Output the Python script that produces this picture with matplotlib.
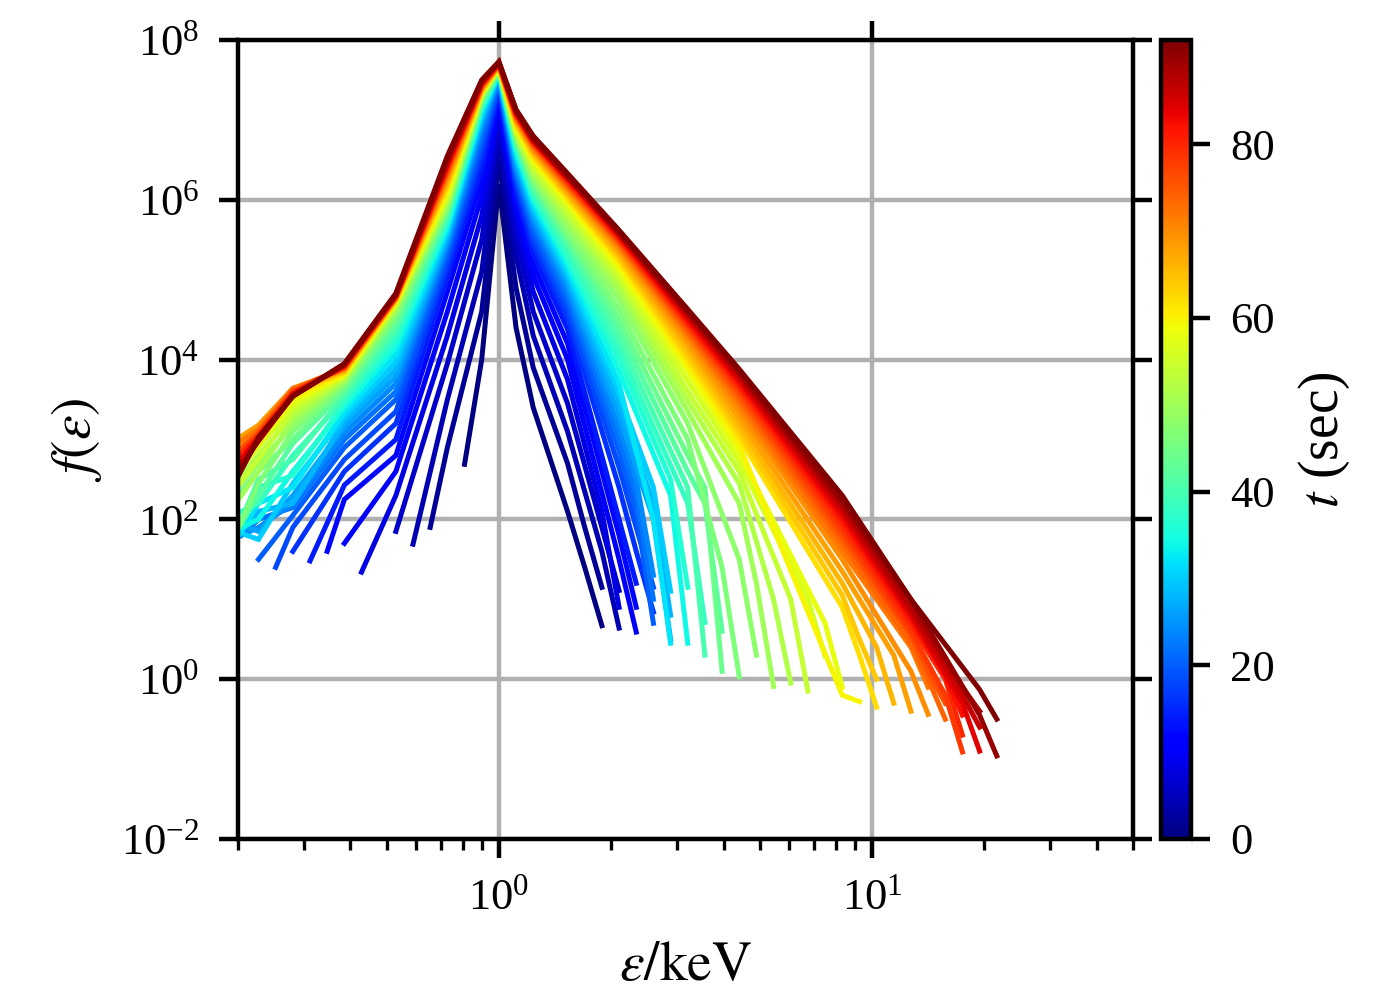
import numpy as np
import matplotlib
matplotlib.use("Agg")
import matplotlib.pyplot as plt
from matplotlib.colors import Normalize
from matplotlib.cm import ScalarMappable
from matplotlib.ticker import NullLocator

plt.rcParams['font.family'] = 'serif'
plt.rcParams['font.serif'] = ['Liberation Serif', 'DejaVu Serif']
plt.rcParams['mathtext.fontset'] = 'stix'

nan = np.nan

# energy bins (keV), bin index k = -16 ... 29  (list position = k + 16)
E_BINS = [0.1837, 0.2042, 0.2270, 0.2523, 0.2805, 0.3119, 0.3467, 0.3855,
          0.4285, 0.4764, 0.5297, 0.5888, 0.6546, 0.7278, 0.8091, 0.8995,
          1.0, 1.1117, 1.2359, 1.3740, 1.5276, 1.6982, 1.8880, 2.0989,
          2.3335, 2.5942, 2.8840, 3.2063, 3.5645, 3.9628, 4.4055, 4.8978,
          5.4450, 6.0534, 6.7298, 7.4817, 8.3176, 9.2470, 10.280, 11.429,
          12.706, 14.125, 15.704, 17.458, 19.409, 21.578]

# snapshot times (sec)
times = [0, 2, 4, 6, 8, 10, 12, 14, 16, 18, 20, 22, 24, 26, 28, 30, 32, 34, 36,
         38, 40, 42, 44, 46, 48, 50, 52, 54, 56, 58, 60, 62, 64, 66, 68, 70, 72,
         74, 76, 78, 80, 82, 84, 86, 88, 90, 92]

# lowest / highest occupied energy bin of each spectrum
k_lo = [-2, -4, -5, -6, -8, -9, -10, -11, -12, -13, -14, -15] + [-16] * 35
k_hi = [6, 6, 7, 7, 7, 8, 8, 8, 9, 9, 9, 9, 9, 10, 10, 10, 10, 11, 11, 12, 12,
        13, 13, 14, 15, 16, 17, 18, 19, 20, 21, 22, 22, 23, 24, 25, 25, 26, 26,
        27, 27, 27, 28, 28, 28, 29, 29]

# log10 f at the lowest bin
logf_lo = [2.69, 1.9, 1.69, 1.85, 1.34, 1.7, 1.6, 1.48, 1.6, 1.4, 1.5, 1.8, 1.7,
           2.0, 1.6, 1.9, 1.5, 1.8, 1.55, 2.0, 1.5, 1.6, 2.1, 1.5, 2.2, 2.0, 2.3,
           2.2, 2.4, 2.5, 2.4, 2.6, 2.7, 2.8, 2.9, 2.8, 2.85, 2.6, 2.7, 2.5, 2.6,
           2.4, 2.5, 2.3, 2.4, 2.3, 2.2]
# log10 f at E = 0.227 keV
logf_0227 = [nan] * 11 + [2.0, 1.9, 1.85, 2.1, 1.75, 2.2, 2.0, 2.4, 2.2, 2.5, 2.3,
             2.6, 2.45, 2.7, 2.6, 2.8, 2.75, 2.9, 2.95, 3.0, 3.05, 3.1, 3.15,
             3.18, 3.15, 3.12, 3.1, 3.08, 3.05, 3.05, 3.0, 3.02, 3.0, 2.98,
             3.0, 3.03]
# log10 f at E = 0.28 keV
logf_0280 = [nan] * 9 + [1.9, 2.05, 2.15, 2.2, 2.3, 2.2, 2.45, 2.4, 2.6, 2.55,
             2.8, 2.75, 2.95, 3.0, 3.1, 3.17, 3.24, 3.3, 3.36, 3.42, 3.47, 3.52,
             3.56, 3.6, 3.63, 3.64, 3.64, 3.63, 3.62, 3.6, 3.59, 3.58, 3.57,
             3.56, 3.55, 3.55, 3.54, 3.54]
# log10 f at E = 0.385 keV
logf_0385 = [nan] * 6 + [2.25, 2.43, 2.6, 2.75, 2.9, 3.0, 3.08, 3.16, 3.22,
             3.28, 3.34, 3.4, 3.45, 3.5, 3.55, 3.6, 3.64, 3.68, 3.71, 3.74,
             3.76, 3.78, 3.8, 3.81, 3.82, 3.84, 3.85, 3.86, 3.87, 3.88, 3.89,
             3.9, 3.9, 3.91, 3.92, 3.92, 3.93, 3.93, 3.94, 3.94, 3.95]
# log10 f at E = 0.53 keV
logf_0530 = [nan] * 4 + [2.3, 2.6, 2.8, 3.0, 3.2, 3.35, 3.5, 3.6, 3.7, 3.79,
             3.88, 3.97, 4.06, 4.15, 4.23, 4.3, 4.37, 4.43, 4.5, 4.55, 4.6,
             4.63, 4.66, 4.68, 4.7, 4.72, 4.73, 4.74, 4.75, 4.76, 4.76, 4.77,
             4.77, 4.78, 4.78, 4.79, 4.79, 4.8, 4.8, 4.81, 4.81, 4.82, 4.83]
# log10 f at E = 0.73 keV
logf_0727 = [nan, 2.9, 3.5, 3.95, 4.3, 4.6, 4.85, 5.05, 5.15, 5.25, 5.33, 5.4,
             5.45, 5.5, 5.55, 5.6, 5.64, 5.68, 5.72, 5.76, 5.8, 5.84, 5.87, 5.9,
             5.93, 5.96, 5.99, 6.02, 6.05, 6.1, 6.13, 6.16, 6.2, 6.23, 6.26,
             6.29, 6.32, 6.35, 6.37, 6.39, 6.41, 6.43, 6.45, 6.47, 6.49, 6.52,
             6.55]
# log10 f at E = 0.9 keV
logf_0900 = [4.0, 4.6, 5.1, 5.5, 5.8, 6.05, 6.25, 6.4, 6.55, 6.65, 6.75, 6.83,
             6.9, 6.96, 7.01, 7.05, 7.09, 7.12, 7.15, 7.18, 7.2, 7.22, 7.24,
             7.26, 7.28, 7.3, 7.31, 7.32, 7.33, 7.34, 7.35, 7.36, 7.37, 7.38,
             7.39, 7.4, 7.41, 7.42, 7.43, 7.44, 7.44, 7.45, 7.46, 7.47, 7.48,
             7.49, 7.5]
# log10 f at the peak, E = 1 keV
logf_peak = [6.2, 6.5, 6.75, 6.95, 7.1, 7.2, 7.28, 7.35, 7.4, 7.44, 7.47, 7.5,
             7.52, 7.54, 7.56, 7.57, 7.58, 7.59, 7.6, 7.6, 7.61, 7.62, 7.62,
             7.63, 7.63, 7.64, 7.64, 7.65, 7.65, 7.66, 7.66, 7.67, 7.67, 7.68,
             7.68, 7.69, 7.69, 7.7, 7.7, 7.7, 7.71, 7.71, 7.71, 7.72, 7.72,
             7.72, 7.73]
# log10 f at E = 1.11 keV
logf_111 = [4.4, 4.9, 5.3, 5.55, 5.75, 5.9, 6.0, 6.1, 6.18, 6.25, 6.3, 6.35,
            6.4, 6.45, 6.5, 6.54, 6.58, 6.62, 6.65, 6.68, 6.71, 6.74, 6.76,
            6.78, 6.8, 6.82, 6.84, 6.86, 6.88, 6.9, 6.92, 6.94, 6.96, 6.98,
            7.0, 7.02, 7.03, 7.04, 7.05, 7.06, 7.07, 7.08, 7.09, 7.1, 7.11,
            7.12, 7.13]
# log10 f at E = 1.24 keV
logf_124 = [3.4, 3.9, 4.3, 4.6, 4.85, 5.05, 5.2, 5.33, 5.44, 5.53, 5.61, 5.68,
            5.74, 5.8, 5.85, 5.9, 5.95, 6.0, 6.04, 6.08, 6.12, 6.16, 6.2, 6.24,
            6.28, 6.32, 6.36, 6.4, 6.44, 6.48, 6.51, 6.54, 6.57, 6.6, 6.62,
            6.64, 6.66, 6.68, 6.7, 6.71, 6.72, 6.73, 6.74, 6.75, 6.76, 6.78,
            6.8]
# log10 f at E = 1.53 keV
logf_153 = [2.1, 2.7, 3.1, 3.45, 3.75, 4.0, 4.2, 4.38, 4.52, 4.62, 4.72, 4.8,
            4.88, 4.95, 5.02, 5.08, 5.14, 5.2, 5.26, 5.32, 5.41, 5.47, 5.53,
            5.58, 5.65, 5.72, 5.78, 5.84, 5.9, 5.95, 5.99, 6.02, 6.05, 6.08,
            6.11, 6.14, 6.16, 6.18, 6.2, 6.22, 6.24, 6.26, 6.27, 6.28, 6.29,
            6.31, 6.33]
# log10 f at E = 2.1 keV
logf_210 = [nan] * 8 + [2.4, 2.65, 2.85, 3.0, 3.15, 3.3, 3.45, 3.58, 3.7, 3.85,
            4.0, 4.12, 4.25, 4.38, 4.5, 4.62, 4.74, 4.85, 4.94, 5.01, 5.07,
            5.13, 5.19, 5.24, 5.28, 5.32, 5.36, 5.4, 5.43, 5.46, 5.48, 5.5,
            5.52, 5.54, 5.56, 5.57, 5.58, 5.6, 5.62]
# log10 f at E = 3.2 keV
logf_321 = [nan] * 21 + [2.6, 2.8, 3.0, 3.2, 3.35, 3.48, 3.6, 3.73, 3.85, 3.92,
            3.99, 4.06, 4.13, 4.2, 4.26, 4.31, 4.35, 4.39, 4.43, 4.46, 4.49,
            4.52, 4.55, 4.58, 4.6, 4.63]
# log10 f at E = 4.4 keV
logf_441 = [nan] * 25 + [2.2, 2.45, 2.6, 2.72, 2.83, 2.93, 3.02, 3.1, 3.18,
            3.27, 3.36, 3.44, 3.5, 3.56, 3.62, 3.66, 3.7, 3.74, 3.78, 3.82,
            3.85, 3.88]
# log10 f at E = 8.3 keV
logf_832 = [nan] * 31 + [0.9, 1.05, 1.2, 1.35, 1.5, 1.6, 1.7, 1.78, 1.86, 1.94,
            2.0, 2.06, 2.12, 2.17, 2.22, 2.3]
# log10 f at E = 12.7 keV
logf_127 = [nan] * 37 + [0.45, 0.55, 0.6, 0.68, 0.75, 0.8, 0.85, 0.9, 1.0, 1.0]
# log10 f at the bin just below the highest one
logf_pre = [1.4, 1.9, 1.6, 1.9, 2.1, 1.5, 1.8, 2.0, 1.6, 1.9, 2.1, 2.3, 2.5,
            2.0, 2.2, 2.4, 2.0, 2.3, 2.5, 2.2, 2.4, 2.2, 2.4, 1.4, 1.5, 1.2,
            1.0, 1.0, 1.0, 0.7, -0.2, 0.3, 0.5, 0.4, 0.3, 0.1, 0.4, 0.0, 0.1,
            -0.2, 0.0, 0.05, -0.3, -0.2, -0.1, -0.45, -0.13]
# log10 f at the highest bin
logf_hi = [0.67, 1.15, 0.64, 1.11, 0.9, 0.59, 0.9, 1.2, 0.84, 1.15, 0.7, 1.0,
           1.3, 0.5, 0.8, 1.1, 0.45, 0.45, 1.15, 0.71, 0.3, 0.6, 0.1, 0.03, 0.3,
           -0.09, -0.05, -0.15, 0.29, -0.1, -0.28, -0.35, 0.0, -0.3, -0.4,
           -0.44, -0.1, -0.5, -0.3, -0.91, -0.7, -0.45, -0.9, -0.6, -0.4,
           -0.96, -0.5]

left_cols = [(-14, logf_0227), (-12, logf_0280), (-9, logf_0385),
             (-6, logf_0530), (-3, logf_0727), (-1, logf_0900)]
right_cols = [(1, logf_111), (2, logf_124), (4, logf_153), (7, logf_210),
              (11, logf_321), (14, logf_441), (20, logf_832), (24, logf_127)]

fig = plt.figure(figsize=(3.5, 2.5), dpi=400)
ax = fig.add_axes([238 / 1400, 161 / 1000, 895 / 1400, 799 / 1000])
cax = fig.add_axes([1161 / 1400, 161 / 1000, 30 / 1400, 799 / 1000])

cmap = plt.get_cmap('jet')
norm = Normalize(vmin=0, vmax=92)

for i, t in enumerate(times):
    ks = [k_lo[i]]
    fs = [logf_lo[i]]
    for k, col in left_cols:
        if k > k_lo[i] and not np.isnan(col[i]):
            ks.append(k)
            fs.append(col[i])
    ks.append(0)
    fs.append(logf_peak[i])
    for k, col in right_cols:
        if k < k_hi[i] - 1 and not np.isnan(col[i]):
            ks.append(k)
            fs.append(col[i])
    ks += [k_hi[i] - 1, k_hi[i]]
    fs += [logf_pre[i], logf_hi[i]]
    E = [E_BINS[k + 16] for k in ks]
    f = np.power(10.0, fs)
    ax.plot(E, f, color=cmap(norm(t)), lw=0.9, solid_joinstyle='miter')

ax.set_xscale('log')
ax.set_yscale('log')
ax.set_xlim(0.2, 50)
ax.set_ylim(1e-2, 1e8)
ax.set_yticks([1e-2, 1e0, 1e2, 1e4, 1e6, 1e8])
ax.yaxis.set_minor_locator(NullLocator())
ax.grid(True, which='major', color='#b0b0b0', lw=0.8)
ax.set_axisbelow(True)
ax.tick_params(which='major', direction='out', top=True, right=True,
               labelsize=8, length=3.5, width=0.8)
ax.tick_params(which='minor', direction='out', top=False, right=False,
               length=2, width=0.6)
ax.set_xlabel(r'$\varepsilon/\mathrm{keV}$', fontsize=10, labelpad=4)
ax.set_ylabel(r'$f(\varepsilon)$', fontsize=10, labelpad=3)

sm = ScalarMappable(norm=norm, cmap=cmap)
cb = fig.colorbar(sm, cax=cax)
cb.set_ticks([0, 20, 40, 60, 80])
cb.ax.tick_params(labelsize=8, length=3.5, width=0.8)
cb.set_label(r'$t$ (sec)', fontsize=10, labelpad=4)

fig.savefig('out.png', dpi=400)
